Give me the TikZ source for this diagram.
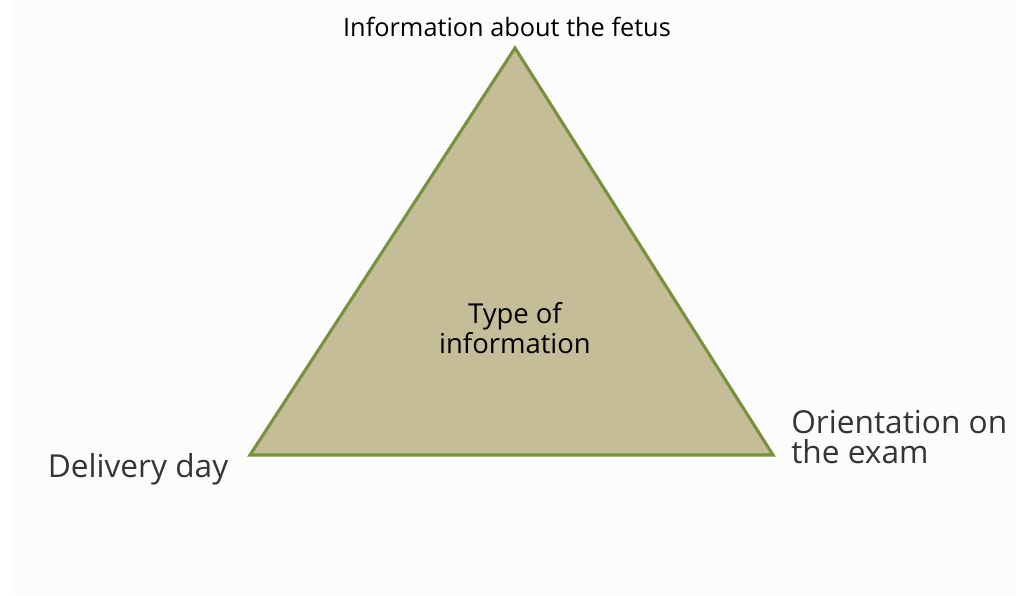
\documentclass[tikz,border=0pt]{standalone}
\usepackage{fontspec}
\setmainfont{Open Sans}
\usetikzlibrary{positioning}
\definecolor{TriFill}  {RGB}{196, 189, 152}
\definecolor{TriEdge}  {RGB}{118, 146,  60}
\definecolor{PageBg}   {RGB}{252, 252, 252}
\definecolor{TextDark} {RGB}{ 30,  30,  30}
\tikzset{
  % corner label of the triangle
  cornerlabel/.style={
    font=\fontsize{22.5}{21.5}\selectfont, text=TextDark!90,
    inner sep=0pt, align=left
  },
  % small label at the apex
  apexlabel/.style={
    font=\fontsize{18}{20}\selectfont, text=black,
    inner sep=0pt, align=center
  },
  % text inside the triangle
  centerlabel/.style={
    font=\fontsize{19.5}{21.3}\selectfont, text=black,
    inner sep=0pt, align=center
  },
  % the triangle itself
  trishape/.style={
    fill=TriFill, draw=TriEdge, line width=2.2pt, line join=miter
  }
}
\begin{document}
\begin{tikzpicture}[x=0.025cm, y=-0.025cm]

  % ── page ────────────────────────────────────────────────────────────────
  \fill[white] (0,0) rectangle (1016,595);
  \fill[PageBg] (13,0) rectangle (1016,595);
  \useasboundingbox (0,0) rectangle (1016,595);

  % ── triangle corners ────────────────────────────────────────────────────
  \coordinate (apex)  at (515,48);
  \coordinate (left)  at (250,455);
  \coordinate (right) at (773,455);

  \draw[trishape] (apex) -- (left) -- (right) -- cycle;

  % ── labels ──────────────────────────────────────────────────────────────
  \node[apexlabel] (fetus) at (507,27) {Information about the fetus};
  \node[centerlabel] (type) at (515,328) {Type of\\information};
  \node[cornerlabel] (delivery) at (138,469) {Delivery day};
  \node[cornerlabel, anchor=west] (orient) at (791,437)
        {Orientation on\\the exam};

\end{tikzpicture}
\end{document}
